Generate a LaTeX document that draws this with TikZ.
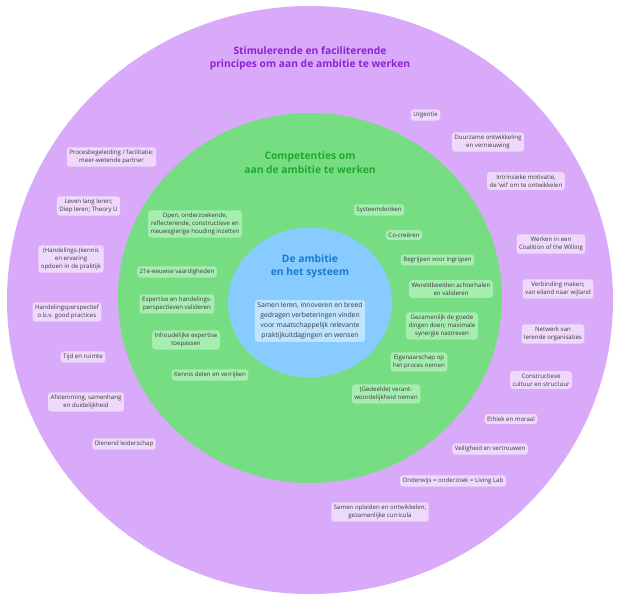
\documentclass[tikz,border=0pt]{standalone}
\usepackage{fontspec}
\setmainfont{Open Sans}
\definecolor{ringpurple}{HTML}{D9A9FA}
\definecolor{ringgreen}{HTML}{77DD82}
\definecolor{ringblue}{HTML}{88CCFF}
\definecolor{fillpurple}{HTML}{EED9FD}
\definecolor{fillgreen}{HTML}{A6EDB0}
\definecolor{fillblue}{HTML}{BEE4FF}
\definecolor{titlepurple}{HTML}{8E22D2}
\definecolor{titlegreen}{HTML}{1FA92F}
\definecolor{titleblue}{HTML}{1A7BCB}
\definecolor{boxtext}{HTML}{3A3A3A}
\newcommand{\boxfont}{\fontsize{6.1}{8}\selectfont}
\newcommand{\corefont}{\fontsize{6.8}{10}\selectfont}
\newcommand{\titlefont}{\fontsize{10.3}{13.5}\selectfont\bfseries}
\tikzset{
  labelbox/.style={rounded corners=3pt, inner xsep=2.5pt, inner ysep=2.6pt,
    align=center, font=\boxfont, text=boxtext},
  outerbox/.style={labelbox, fill=fillpurple},
  innerbox/.style={labelbox, fill=fillgreen},
  corebox/.style={labelbox, fill=fillblue, font=\corefont, inner ysep=2.5pt},
  ringtitle/.style={align=center, font=\titlefont, inner sep=0pt}
}
\begin{document}
\begin{tikzpicture}[x=1pt,y=-1pt]
  \fill[white] (0,0) rectangle (620,600);
  \useasboundingbox (0,0) rectangle (620,600);
  % rings
  \fill[ringpurple] (310,300) ellipse [x radius=303pt, y radius=294pt];
  \fill[ringgreen] (310,298) ellipse [x radius=192pt, y radius=185pt];
  \fill[ringblue] (310,302.5) ellipse [x radius=82pt, y radius=75pt];
  % titles
  \node[ringtitle, text=titlepurple] (principes) at (310,58.5)
    {Stimulerende en faciliterende\\principes om aan de ambitie te werken};
  \node[ringtitle, text=titlegreen] (competenties) at (310,162.5)
    {Competenties om\\aan de ambitie te werken};
  \node[ringtitle, text=titleblue] (ambitie) at (310,266.5)
    {De ambitie\\en het systeem};
  \node[corebox] (samenleren) at (310,321)
    {Samen leren, innoveren en breed\\gedragen verbeteringen vinden\\voor maatschappelijk relevante\\praktijkuitdagingen en wensen};
  % principles, left
  \draw
    (111.5,157) node[outerbox] (proces){Procesbegeleiding / facilitatie:\\meer-wetende partner}
    (88.5,206) node[outerbox] (leven){Leven lang leren;\\Diep leren; Theory U}
    (71,259) node[outerbox] (kennis){(Handelings-)kennis\\en ervaring\\opdoen in de praktijk}
    (67,312) node[outerbox] (perspectief){Handelingsperspectief\\o.b.v. good practices}
    (83,357) node[outerbox] (tijd){Tijd en ruimte}
    (86,402) node[outerbox] (afstemming){Afstemming, samenhang\\en duidelijkheid}
    (124,444) node[outerbox] (dienend){Dienend leiderschap};
  % principles, right
  \draw
    (425.5,115) node[outerbox] (urgentie){Urgentie}
    (488,142) node[outerbox] (duurzaam){Duurzame ontwikkeling\\en vernieuwing}
    (526,181) node[outerbox] (motivatie){Intrinsieke motivatie,\\de ‘wil’ om te ontwikkelen}
    (551,244) node[outerbox] (coalition){Werken in een\\Coalition of the Willing}
    (558,289) node[outerbox] (verbinding){Verbinding maken;\\van eiland naar wijland}
    (553,334) node[outerbox] (netwerk){Netwerk van\\lerende organisaties}
    (541,380) node[outerbox] (cultuur){Constructieve\\cultuur en structuur}
    (511,419) node[outerbox] (ethiek){Ethiek en moraal}
    (490,449) node[outerbox] (veiligheid){Veiligheid en vertrouwen}
    (453,481) node[outerbox] (livinglab){Onderwijs = onderzoek = Living Lab}
    (380,512) node[outerbox] (opleiden){Samen opleiden en ontwikkelen;\\gezamenlijke curricula};
  % competences, left
  \draw
    (195,224) node[innerbox] (houding){Open, onderzoekende,\\reflecterende, constructieve en\\nieuwsgierige houding inzetten}
    (177,272) node[innerbox] (vaardigheden){21e-eeuwse vaardigheden}
    (177,304) node[innerbox] (valideren){Expertise en handelings-\\perspectieven valideren}
    (186,340) node[innerbox] (toepassen){Inhoudelijke expertise\\toepassen}
    (210,375) node[innerbox] (delen){Kennis delen en verrijken};
  % competences, right
  \draw
    (379,210) node[innerbox] (systeem){Systeemdenken}
    (404,235) node[innerbox] (cocreeren){Co-creëren}
    (437.5,260) node[innerbox] (begrijpen){Begrijpen voor ingrijpen}
    (451,289) node[innerbox] (wereld){Wereldbeelden achterhalen\\en valideren}
    (442,326) node[innerbox] (synergie){Gezamenlijk de goede\\dingen doen; maximale\\synergie nastreven}
    (419,362) node[innerbox] (eigenaar){Eigenaarschap op\\het proces nemen}
    (386,394) node[innerbox] (verantw){(Gedeelde) verant-\\woordelijkheid nemen};
\end{tikzpicture}
\end{document}
